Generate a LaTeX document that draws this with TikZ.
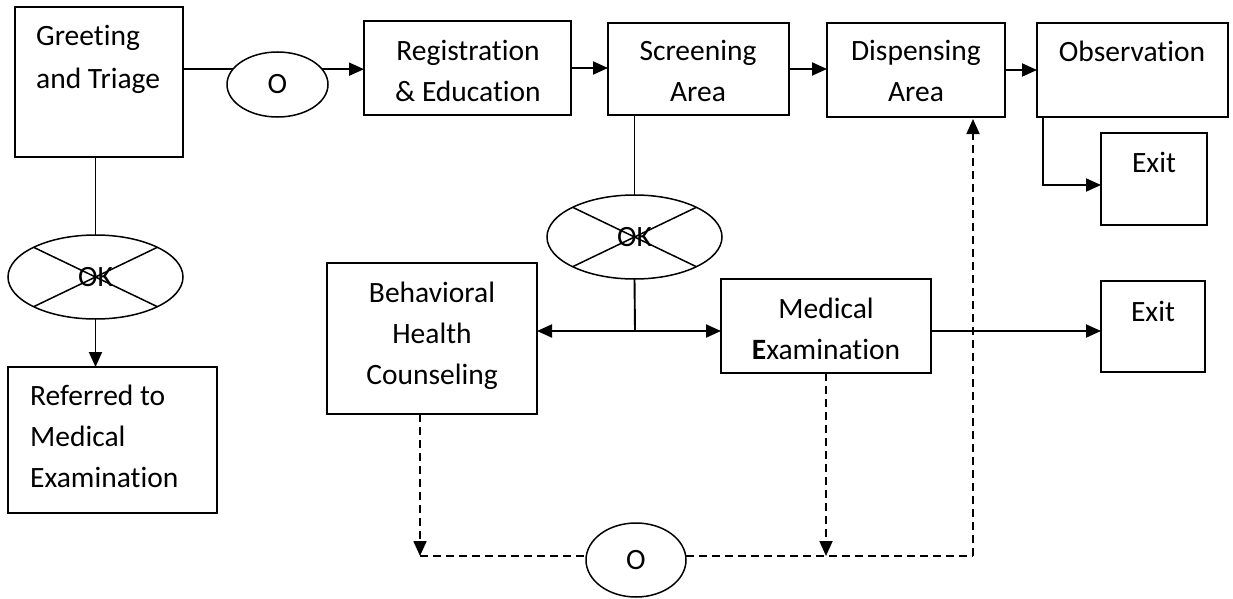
\documentclass[tikz,border=0pt]{standalone}
\usepackage{fontspec}
\setmainfont{Carlito}[Ligatures=NoCommon]
\usetikzlibrary{shapes.geometric,arrows.meta}
\begin{document}
\begin{tikzpicture}[x=1pt,y=-1pt,
  box/.style={draw, line width=2.1pt, rectangle, inner sep=0pt, outer sep=0pt, anchor=north west},
  oval/.style={draw, ellipse, line width=1.5pt, inner sep=0pt, outer sep=0pt,
    font=\fontsize{29.5}{41}\selectfont},
  txt/.style={font=\fontsize{29.5}{41}\selectfont, inner sep=0pt},
  link/.style={line width=1.9pt},
  arr/.style={link, -{Triangle[length=15pt,width=13pt]}},
  dashlink/.style={line width=1.8pt, dash pattern=on 8pt off 5pt},
  darr/.style={dashlink, -{Triangle[length=15pt,width=13pt]}},
  crossline/.style={line width=1.5pt},
]
\useasboundingbox (0,0) rectangle (1233,599);

% boxes
\node[box, minimum width=168, minimum height=150] (greet) at (15,7) {};
\node[box, minimum width=207, minimum height=94] (reg) at (364,21) {};
\node[box, minimum width=181, minimum height=92] (scr) at (608,23) {};
\node[box, minimum width=178, minimum height=94] (disp) at (827,23) {};
\node[box, minimum width=191, minimum height=94] (obs) at (1037,23) {};
\node[box, minimum width=106, minimum height=92] (exitA) at (1101,133) {};
\node[box, minimum width=209, minimum height=146] (ref) at (8,367) {};
\node[box, minimum width=210, minimum height=151] (beh) at (327,263) {};
\node[box, minimum width=210, minimum height=94] (med) at (721,279) {};
\node[box, minimum width=104, minimum height=91] (exitB) at (1101,281) {};

% box texts (base anchor sits on the last line)
\node[txt, font=\fontsize{29.5}{43}\selectfont, align=left, anchor=base west] (greetT) at (36,89) {Greeting\\and Triage};
\node[txt, align=center, anchor=base] (regT) at (468,102) {Registration\\\& Education};
\node[txt, align=center, anchor=base] (scrT) at (698,102) {Screening\\Area};
\node[txt, align=center, anchor=base] (dispT) at (916,102) {Dispensing\\Area};
\node[txt, anchor=base] (obsT) at (1132,62) {Observation};
\node[txt, anchor=base] (exitAT) at (1154,172) {Exit};
\node[txt, align=left, anchor=base west] (refT) at (30,487) {Referred to\\Medical\\Examination};
\node[txt, align=center, anchor=base] (behT) at (432,384) {Behavioral\\Health\\Counseling};
\node[txt, align=center, anchor=base] (medT) at (826,359) {Medical\\\textbf{E}xamination};
\node[txt, anchor=base] (exitBT) at (1153,321) {Exit};

% ovals
\node[oval, minimum width=101, minimum height=65] (oA) at (277.5,84.5) {O};
\node[oval, minimum width=100, minimum height=74] (oB) at (636,560) {O};
\node[oval, minimum width=175, minimum height=84] (okA) at (95.5,277) {OK};
\node[oval, minimum width=175, minimum height=84] (okB) at (634.5,237) {OK};
\foreach \e in {okA,okB}{
  \draw[crossline] (\e.north west) -- (\e.south east);
  \draw[crossline] (\e.north east) -- (\e.south west);
}

% main flow along the top
\draw[link] (greet.east |- oA.161) -- (oA.161);
\draw[arr] (oA.19) -- (reg.west |- oA.19);
\draw[arr] (reg.east) -- (reg.east -| scr.west);
\draw[arr] (scr.east) -- (scr.east -| disp.west);
\draw[arr] (disp.east) -- (disp.east -| obs.west);
\draw[arr] ([xshift=6pt]obs.south west) |- ([yshift=-6pt]exitA.west);

% triage branch
\draw[link] (okA.north |- greet.south) -- (okA.north);
\draw[arr] (okA.south) -- (okA.south |- ref.north);

% screening branch
\coordinate (split) at (635,331);
\draw[link] (okB.north |- scr.south) -- (okB.north);
\draw[link] (okB.south) -- (split);
\draw[arr] (split) -- (split -| beh.east);
\draw[arr] (split) -- (split -| med.west);
\draw[arr] (med.east |- split) -- (exitB.west |- split);

% dashed return loop
\coordinate (bl) at (420,556);
\coordinate (br) at (973,556);
\draw[darr] (beh.south -| bl) -- (bl);
\draw[dashlink] (bl) -- (bl -| oB.west);
\draw[dashlink] (oB.east |- br) -- (br);
\draw[darr] (med.south) -- (med.south |- br);
\draw[darr] (br) -- ([yshift=-2pt]br |- disp.south);
\end{tikzpicture}
\end{document}
